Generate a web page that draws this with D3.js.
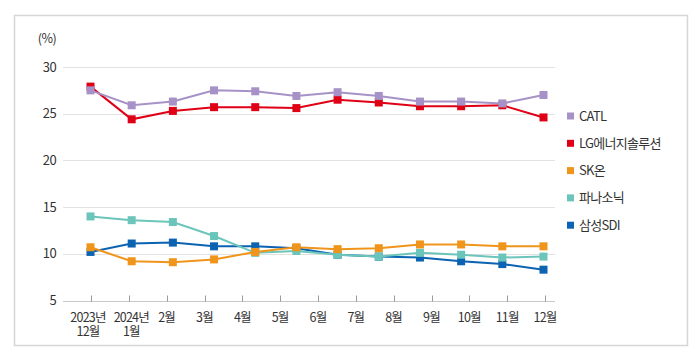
<!DOCTYPE html>
<html>
<head>
<meta charset="utf-8">
<script src="https://cdn.jsdelivr.net/npm/d3@7"></script>
<style>
  body { margin: 0; background: #fff; }
  svg text { font-family: "Noto Sans CJK KR", "Noto Sans", sans-serif; fill: #333; }
</style>
</head>
<body>
<div id="chart-container"></div>
<script>
// tick labels on the x axis (13 of them)
const monthLabels = [
  ["2023년", "12월"], ["2024년", "1월"], ["2월"], ["3월"], ["4월"], ["5월"], ["6월"],
  ["7월"], ["8월"], ["9월"], ["10월"], ["11월"], ["12월"]
];

// series values (12 points each, as plotted)
const catl      = [27.5, 25.9, 26.3, 27.5, 27.4, 26.9, 27.3, 26.9, 26.3, 26.3, 26.1, 27.0];
const lgEnergy  = [27.9, 24.4, 25.3, 25.7, 25.7, 25.6, 26.5, 26.2, 25.8, 25.8, 25.9, 24.6];
const skOn      = [10.7, 9.2, 9.1, 9.4, 10.2, 10.7, 10.5, 10.6, 11.0, 11.0, 10.8, 10.8];
const panasonic = [14.0, 13.6, 13.4, 11.9, 10.1, 10.3, 9.9, 9.7, 10.1, 9.9, 9.6, 9.7];
const samsungSdi = [10.2, 11.1, 11.2, 10.8, 10.8, 10.6, 9.9, 9.7, 9.6, 9.2, 8.9, 8.3];

const seriesNames = ["CATL", "LG에너지솔루션", "SK온", "파나소닉", "삼성SDI"];
const seriesValues = [catl, lgEnergy, skOn, panasonic, samsungSdi];
const seriesColors = ["#a692c6", "#e00016", "#f0951c", "#6cc5bb", "#0b63b2"];

const yTicks = [5, 10, 15, 20, 25, 30];

const width = 700, height = 354;

const svg = d3.select('#chart-container')
  .append('svg')
  .attr('width', width)
  .attr('height', height);

// outer frame
svg.append('rect')
  .attr('x', 14.5).attr('y', 15.5)
  .attr('width', 673).attr('height', 330)
  .attr('fill', 'none')
  .attr('stroke', '#d6d6d6')
  .attr('stroke-width', 1.5);

const plotLeft = 63, plotRight = 555;

const y = d3.scaleLinear()
  .domain([5, 30])
  .range([300.5, 67]);

// x for tick labels
const xTicks = d3.scalePoint()
  .domain(d3.range(monthLabels.length))
  .range([91, 545]);

// x for data points
const xData = d3.scalePoint()
  .domain(d3.range(catl.length))
  .range([90.5, 543.5]);

// gridlines
svg.append('g')
  .selectAll('line')
  .data(yTicks.filter(d => d > 5))
  .enter().append('line')
  .attr('x1', plotLeft).attr('x2', plotRight)
  .attr('y1', d => Math.round(y(d)) + 0.5)
  .attr('y2', d => Math.round(y(d)) + 0.5)
  .attr('stroke', '#e2e2e2')
  .attr('stroke-width', 1.2);

// y tick labels
svg.append('g')
  .selectAll('text')
  .data(yTicks)
  .enter().append('text')
  .attr('x', 56)
  .attr('y', d => y(d))
  .attr('dy', '0.35em')
  .attr('text-anchor', 'end')
  .style('font-size', '13px')
  .style('letter-spacing', '-0.6px')
  .text(d => d);

svg.append('text')
  .attr('x', 47)
  .attr('y', 39)
  .attr('dy', '0.35em')
  .attr('text-anchor', 'middle')
  .style('font-size', '12.5px')
  .style('letter-spacing', '-0.5px')
  .text('(%)');

// x axis line + ticks
const axisY = Math.round(y(5)) + 0.5;
svg.append('line')
  .attr('x1', plotLeft).attr('x2', plotRight)
  .attr('y1', axisY).attr('y2', axisY)
  .attr('stroke', '#c8c8c8')
  .attr('stroke-width', 1.2);

svg.append('g')
  .selectAll('line')
  .data(d3.range(monthLabels.length))
  .enter().append('line')
  .attr('x1', d => Math.round(xTicks(d)) + 0.5)
  .attr('x2', d => Math.round(xTicks(d)) + 0.5)
  .attr('y1', axisY - 6).attr('y2', axisY)
  .attr('stroke', '#9a9a9a')
  .attr('stroke-width', 1);

// the two year labels are nudged apart a little so they don't collide
const labelNudge = i => (i === 0 ? -3 : i === 1 ? 2.5 : 0);

const xLabels = svg.append('g')
  .selectAll('text')
  .data(monthLabels)
  .enter().append('text')
  .attr('x', (d, i) => xTicks(i) + labelNudge(i))
  .attr('y', 318)
  .attr('text-anchor', 'middle')
  .style('font-size', '12.5px')
  .style('letter-spacing', '-0.8px');

xLabels.selectAll('tspan')
  .data(d => d)
  .enter().append('tspan')
  .attr('x', function () { return this.parentNode.getAttribute('x'); })
  .attr('dy', (d, i) => i === 0 ? '0.35em' : '1.1em')
  .text(d => d);

// lines, drawn in reverse so CATL sits on top
const line = d3.line()
  .x((d, i) => xData(i))
  .y(d => y(d));

const order = d3.range(seriesNames.length).reverse();
order.forEach(k => {
  const g = svg.append('g');
  g.append('path')
    .datum(seriesValues[k])
    .attr('d', line)
    .attr('fill', 'none')
    .attr('stroke', seriesColors[k])
    .attr('stroke-width', 2);
  g.selectAll('rect')
    .data(seriesValues[k])
    .enter().append('rect')
    .attr('x', (d, i) => xData(i) - 4)
    .attr('y', d => y(d) - 4)
    .attr('width', 8)
    .attr('height', 8)
    .attr('fill', seriesColors[k]);
});

// legend
const legend = svg.append('g')
  .attr('transform', 'translate(567, 116)');

legend.selectAll('rect')
  .data(seriesNames)
  .enter().append('rect')
  .attr('x', 0)
  .attr('y', (d, i) => i * 27.3 - 3.5)
  .attr('width', 7)
  .attr('height', 7)
  .attr('fill', (d, i) => seriesColors[i]);

legend.selectAll('text')
  .data(seriesNames)
  .enter().append('text')
  .attr('x', 12)
  .attr('y', (d, i) => i * 27.3)
  .attr('dy', '0.35em')
  .style('font-size', '13px')
  .style('letter-spacing', '-0.7px')
  .text(d => d);
</script>
</body>
</html>
